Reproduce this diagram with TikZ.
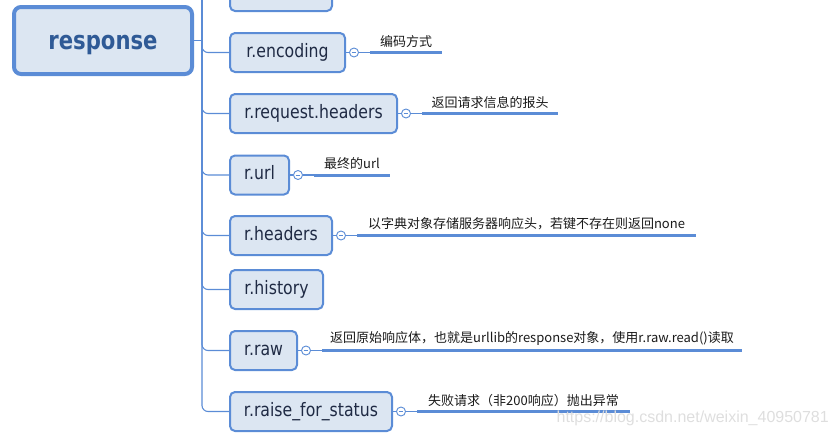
\documentclass[tikz,border=0pt]{standalone}
\usepackage{fontspec}
\setmainfont{DejaVu Sans}
\newfontfamily\cjk{Noto Sans CJK SC}
\newfontfamily\wmfont{Liberation Sans}
\newfontfamily\boxfont[FakeStretch=0.85]{DejaVu Sans}
\newfontfamily\rootfont[FakeStretch=0.83]{DejaVu Sans Bold}
\usetikzlibrary{calc}
\definecolor{bfill}{HTML}{DCE6F2}
\definecolor{bdraw}{HTML}{5B8CD6}
\definecolor{btext}{HTML}{1F2A44}
\definecolor{rtext}{HTML}{2F5A96}
\definecolor{ltext}{HTML}{1A1A1A}
\tikzset{
  rootbox/.style={draw=bdraw, fill=bfill, line width=4pt, rounded corners=7pt,
    minimum width=178pt, minimum height=67pt, inner sep=0pt,
    text height=22pt, text depth=4pt,
    font=\rootfont\fontsize{25.5}{28}\selectfont, text=rtext},
  childbox/.style={draw=bdraw, fill=bfill, line width=2pt, rounded corners=5pt,
    minimum height=39pt, inner sep=0pt, anchor=west,
    text height=13pt, text depth=4pt,
    font=\boxfont\fontsize{18.5}{21}\selectfont, text=btext},
  conn/.style={draw=bdraw, line width=1.1pt, rounded corners=6pt},
  thinln/.style={draw=bdraw, line width=1.1pt},
  thickln/.style={draw=bdraw, line width=3pt},
  collapse/.style={circle, draw=bdraw, fill=white, line width=0.9pt,
    minimum size=9pt, inner sep=0pt,
    path picture={\draw[bdraw, line width=0.8pt]
      ([xshift=-2.3pt]path picture bounding box.center) --
      ([xshift=2.3pt]path picture bounding box.center);}},
  note/.style={anchor=south, inner sep=0pt, yshift=5pt,
    font=\cjk\fontsize{13}{15}\selectfont, text=ltext},
}
\newcommand{\annot}[4]{%
  \node[collapse] (#1c) at ($(#2.east)+(8,0)$) {};
  \coordinate (#1s) at ($(#1c)+(16,0)$);
  \coordinate (#1e) at (#3,0 |- #1c);
  \draw[thinln] (#2.east) -- (#1c);
  \draw[thinln] (#1c) -- (#1s);
  \draw[thickln] (#1s) -- (#1e);
  \node[note] (#1n) at ($(#1s)!0.5!(#1e)$) {#4};
}
\begin{document}
\begin{tikzpicture}[x=1pt,y=-1pt]
\useasboundingbox (0,0) rectangle (837,439);

% root
\node[rootbox] (root) at (103,40.5) {response};
\coordinate (sp) at (202,40.5);
\coordinate (sptop) at (202,-40);

% children
\node[childbox, minimum width=102pt] (top) at (229,-8.5) {};
\node[childbox, minimum width=115pt] (enc) at (229,52.5) {r.encoding};
\node[childbox, minimum width=167pt] (req) at (229,113.5) {r.request.headers};
\node[childbox, minimum width=59pt]  (url) at (229,175) {r.url};
\node[childbox, minimum width=102pt] (hdr) at (229,235.5) {r.headers};
\node[childbox, minimum width=93pt]  (his) at (229,289.5) {r.history};
\node[childbox, minimum width=67pt]  (raw) at (229,350.5) {r.raw};
\node[childbox, minimum width=162pt] (rfs) at (229,411.5) {r.raise\_for\_status};

% spine connectors
\draw[thinln] (root.east) -- (sp);
\foreach \c in {top,enc,req,url,hdr,his,raw,rfs}{
  \draw[conn] (sptop) |- (\c.west);
}

% annotations
\annot{a}{enc}{442}{编码方式}
\annot{b}{req}{558}{返回请求信息的报头}
\annot{d}{url}{390}{最终的url}
\annot{f}{hdr}{696}{以字典对象存储服务器响应头，若键不存在则返回none}
\annot{g}{raw}{742}{返回原始响应体，也就是urllib的response对象，使用r.raw.read()读取}
\annot{h}{rfs}{630}{失败请求（非200响应）抛出异常}

% watermark
\node[anchor=east, inner sep=0pt, text=black!13,
  font=\wmfont\fontsize{16}{18}\selectfont] (wm) at (829,418) {https://blog.csdn.net/weixin\_40950781};
\end{tikzpicture}
\end{document}
